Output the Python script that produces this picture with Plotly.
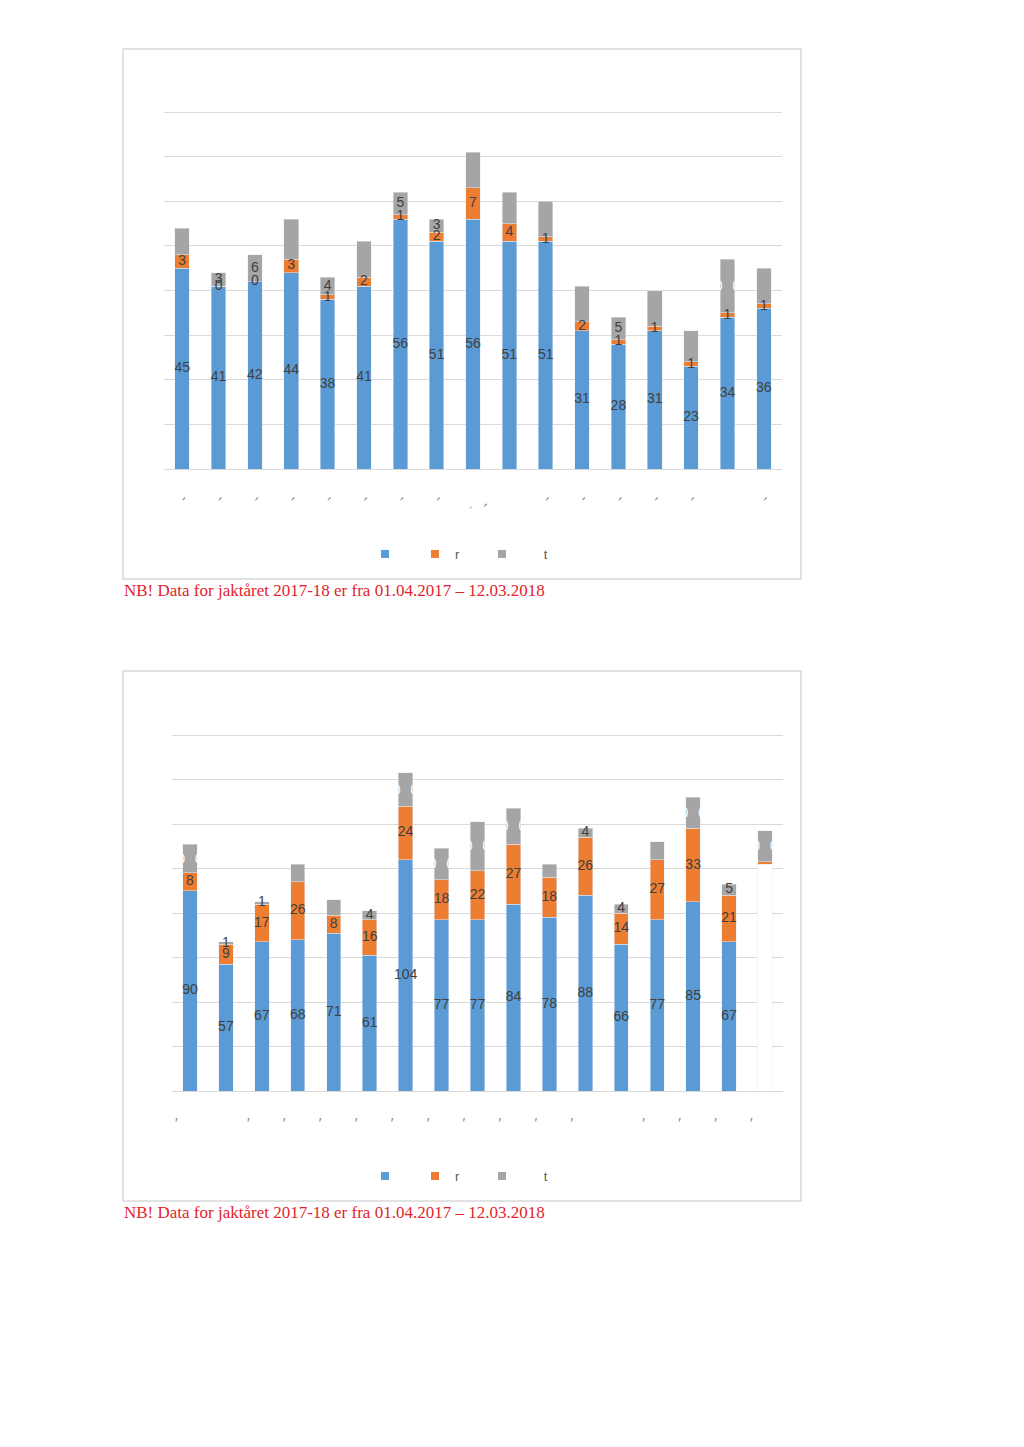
import plotly.graph_objects as go

# ---------------- data ----------------
seasons = ["2001-02", "2002-03", "2003-04", "2004-05", "2005-06", "2006-07",
           "2007-08", "2008-09", "2009-10", "2010-11", "2011-12", "2012-13",
           "2013-14", "2014-15", "2015-16", "2016-17", "2017-18"]

# chart 1
c1_blue = [45, 41, 42, 44, 38, 41, 56, 51, 56, 51, 51, 31, 28, 31, 23, 34, 36]
c1_orange = [3, 0, 0, 3, 1, 2, 1, 2, 7, 4, 1, 2, 1, 1, 1, 1, 1]
c1_gray = [6, 3, 6, 9, 4, 8, 5, 3, 8, 7, 8, 8, 5, 8, 7, 12, 8]
c1_blue_lbl = [str(v) for v in c1_blue]
c1_orange_lbl = [str(v) for v in c1_orange]
c1_gray_lbl = ["", "3", "6", "", "4", "", "5", "3", "", "", "", "", "5", "", "", "", ""]
c1_gray_broken = [0, 0, 0, 0, 0, 0, 0, 0, 0, 0, 0, 0, 0, 0, 0, 1, 0]
c1_ticks = ["′", "′", "′", "′", "′", "′", "′", "′", "ˌ\u00a0\u00a0′", "", "′", "′", "′", "′", "′", "", "′"]

# chart 2
c2_blue = [90, 57, 67, 68, 71, 61, 104, 77, 77, 84, 78, 88, 66, 77, 85, 67, 102]
c2_orange = [8, 9, 17, 26, 8, 16, 24, 18, 22, 27, 18, 26, 14, 27, 33, 21, 1]
c2_gray = [13, 1, 1, 8, 7, 4, 15, 14, 22, 16, 6, 4, 4, 8, 14, 5, 14]
c2_blue_lbl = [str(v) for v in c2_blue[:16]] + [""]
c2_orange_lbl = [str(v) for v in c2_orange[:16]] + [""]
c2_gray_lbl = ["", "1", "1", "", "", "4", "", "", "", "", "", "4", "4", "", "", "5", ""]
c2_gray_broken = [1, 0, 0, 0, 0, 0, 1, 1, 1, 1, 0, 0, 0, 0, 1, 0, 1]
c2_ticks = ["′", "", "′", "′", "′", "′", "′", "′", "′", "′", "′", "′", "", "′", "′", "′", "′"]

legend_names = ["\u00a0", "r", "\u00a0" * 6 + "t"]
note = "NB! Data for jaktåret 2017-18 er fra 01.04.2017 – 12.03.2018"

# ---------------- style ----------------
W, H = 1024, 1447
BLUE, ORANGE, GRAY = "#5B9BD5", "#ED7D31", "#A5A5A5"
LBL = "#404040"
GRID = "#d9d9d9"
FONT = "Liberation Sans"
TICK_PAD = "\u00a0" * 7
HEADROOM = 1.01  # small headroom so the top gridline is drawn


def px(x):
    return x / W


def py(y):
    return 1 - y / H


fig = go.Figure()

charts = [
    dict(blue=c1_blue, orange=c1_orange, gray=c1_gray, bl=c1_blue_lbl, ol=c1_orange_lbl,
         gl=c1_gray_lbl, gb=c1_gray_broken, ticks=c1_ticks, blue_colors=[BLUE] * 17,
         xa="x", ya="y", box=(123, 49, 801, 579), plot=(164, 112, 782, 469),
         ymax=80, dtick=10, legend_y=554, note_y=590, legs=("legend", "legend2", "legend3")),
    dict(blue=c2_blue, orange=c2_orange, gray=c2_gray, bl=c2_blue_lbl, ol=c2_orange_lbl,
         gl=c2_gray_lbl, gb=c2_gray_broken, ticks=c2_ticks, blue_colors=[BLUE] * 16 + ["#ffffff"],
         xa="x2", ya="y2", box=(123, 671, 801, 1201), plot=(172, 735, 783, 1091),
         ymax=160, dtick=20, legend_y=1176, note_y=1212, legs=("legend4", "legend5", "legend6")),
]

legend_x = [387, 437, 504]
layout_extra = {}
shapes = []
annotations = []

for i, c in enumerate(charts):
    xa, ya = c["xa"], c["ya"]
    fig.add_trace(go.Bar(x=seasons, y=c["blue"], marker_color=c["blue_colors"], xaxis=xa, yaxis=ya,
                         showlegend=False, hoverinfo="skip"))
    fig.add_trace(go.Bar(x=seasons, y=c["orange"], marker_color=ORANGE, xaxis=xa, yaxis=ya,
                         showlegend=False, hoverinfo="skip"))
    fig.add_trace(go.Bar(x=seasons, y=c["gray"], marker_color=GRAY, xaxis=xa, yaxis=ya,
                         showlegend=False, hoverinfo="skip"))

    mid_b = [b / 2 for b in c["blue"]]
    mid_o = [b + o / 2 for b, o in zip(c["blue"], c["orange"])]
    mid_g = [b + o + g / 2 for b, o, g in zip(c["blue"], c["orange"], c["gray"])]
    for ys, txt in ((mid_b, c["bl"]), (mid_o, c["ol"]), (mid_g, c["gl"])):
        fig.add_trace(go.Scatter(x=seasons, y=ys, text=txt, mode="text", xaxis=xa, yaxis=ya,
                                 textfont=dict(family=FONT, size=14, color=LBL),
                                 showlegend=False, hoverinfo="skip"))
    broken = [")\u00a0\u00a0\u00a0\u00a0(" if f else "" for f in c["gb"]]
    fig.add_trace(go.Scatter(x=seasons, y=mid_g, text=broken, mode="text", xaxis=xa, yaxis=ya,
                             textfont=dict(family="Liberation Sans", size=9, color="#ffffff",
                                           weight="bold"),
                             showlegend=False, hoverinfo="skip"))

    # legend entries
    for name, col, leg, lx in zip(legend_names, (BLUE, ORANGE, GRAY), c["legs"], legend_x):
        fig.add_trace(go.Scatter(x=[None], y=[None], mode="markers", name=name, xaxis=xa, yaxis=ya,
                                 marker=dict(symbol="square", size=8, color=col),
                                 legend=leg, showlegend=True))
        layout_extra[leg] = dict(x=px(lx - 22), y=py(c["legend_y"]), xanchor="left", yanchor="middle",
                                 orientation="v", bgcolor="rgba(0,0,0,0)",
                                 font=dict(family=FONT, size=13, color="#595959"))

    x0, y0, x1, y1 = c["plot"]
    top = y0 - (y1 - y0) * (HEADROOM - 1)
    axn = "" if i == 0 else "2"
    layout_extra["xaxis" + axn] = dict(domain=[px(x0), px(x1)], anchor=ya, type="category",
                                       categoryorder="array", categoryarray=seasons,
                                       range=[-0.5, len(seasons) - 0.5], automargin=False,
                                       tickmode="array", tickvals=seasons,
                                       ticktext=[t + TICK_PAD if t else "" for t in c["ticks"]],
                                       showgrid=False, showline=False, zeroline=False, ticks="",
                                       ticklabelstandoff=22,
                                       tickfont=dict(family=FONT, size=14, color="#7f7f7f"))
    layout_extra["yaxis" + axn] = dict(domain=[py(y1), py(top)], anchor=xa, automargin=False,
                                       range=[0, c["ymax"] * HEADROOM],
                                       tick0=0, dtick=c["dtick"], showticklabels=False, showgrid=True,
                                       gridcolor=GRID, gridwidth=1, zeroline=True,
                                       zerolinecolor=GRID, zerolinewidth=1, showline=False, ticks="")

    bx0, by0, bx1, by1 = c["box"]
    shapes.append(dict(type="rect", xref="paper", yref="paper", x0=px(bx0), x1=px(bx1),
                       y0=py(by1), y1=py(by0), line=dict(color=GRID, width=1.5),
                       fillcolor="rgba(0,0,0,0)", layer="below"))
    annotations.append(dict(text=note, xref="paper", yref="paper", x=px(bx0 - 1), y=py(c["note_y"]),
                            xanchor="left", yanchor="middle", showarrow=False,
                            font=dict(family="Liberation Serif", size=17, color="#e3242b")))

fig.update_layout(width=W, height=H, autosize=False,
                  margin=dict(l=0, r=0, t=0, b=0, pad=0, autoexpand=False),
                  paper_bgcolor="white", plot_bgcolor="white",
                  barmode="stack", bargap=0.6, shapes=shapes, annotations=annotations,
                  **layout_extra)

fig.write_html("out.html", config={"displayModeBar": False, "responsive": False},
               post_script="document.documentElement.style.overflow='hidden';"
                           "document.body.style.margin='0';document.body.style.overflow='hidden';")
